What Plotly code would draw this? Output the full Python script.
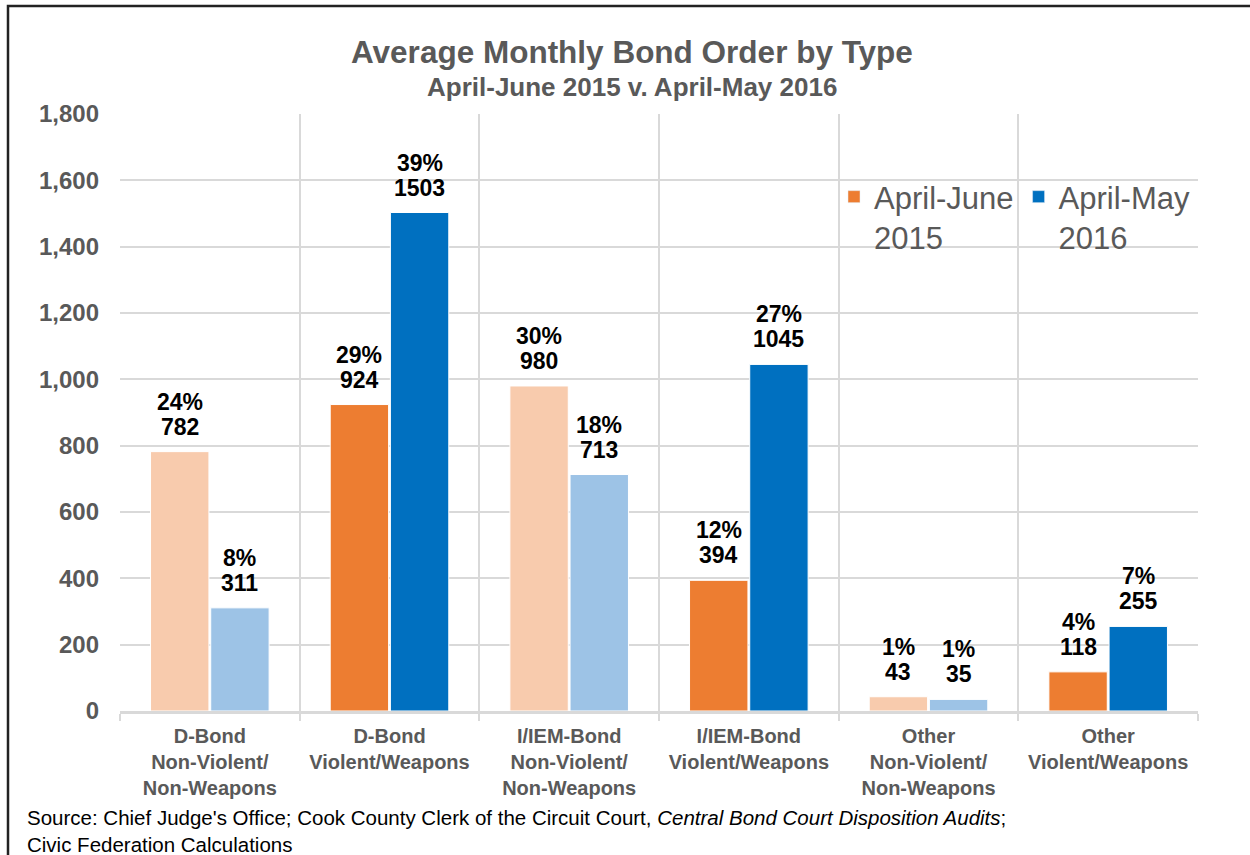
import plotly.graph_objects as go

categories = [
    "D-Bond<br>Non-Violent/<br>Non-Weapons",
    "D-Bond<br>Violent/Weapons",
    "I/IEM-Bond<br>Non-Violent/<br>Non-Weapons",
    "I/IEM-Bond<br>Violent/Weapons",
    "Other<br>Non-Violent/<br>Non-Weapons",
    "Other<br>Violent/Weapons",
]
values_2015 = [782, 924, 980, 394, 43, 118]
values_2016 = [311, 1503, 713, 1045, 35, 255]
pct_2015 = ["24%", "29%", "30%", "12%", "1%", "4%"]
pct_2016 = ["8%", "39%", "18%", "27%", "1%", "7%"]
violent = [False, True, False, True, False, True]
y_ticks = [0, 200, 400, 600, 800, 1000, 1200, 1400, 1600, 1800]

FONT = "Arial, 'Liberation Sans', sans-serif"
GRAY = "#595959"
GRID = "#D9D9D9"
ORANGE, ORANGE_L = "#ED7D31", "#F8CBAD"
BLUE, BLUE_L = "#0070C0", "#9DC3E6"

BAR_W = 0.325
OFF_A = -0.33
OFF_B = 0.005

xs = list(range(len(categories)))
col_a = [ORANGE if v else ORANGE_L for v in violent]
col_b = [BLUE if v else BLUE_L for v in violent]

fig = go.Figure()
fig.add_trace(go.Bar(
    x=xs, y=values_2015, name="April-June<br>2015", width=BAR_W, offset=OFF_A,
    marker=dict(color=col_a, line=dict(color="white", width=1)), showlegend=False,
))
fig.add_trace(go.Bar(
    x=xs, y=values_2016, name="April-May<br>2016", width=BAR_W, offset=OFF_B,
    marker=dict(color=col_b, line=dict(color="white", width=1)), showlegend=False,
))
# legend swatches in the dark colours
fig.add_trace(go.Bar(x=[None], y=[None], name="April-June<br>2015", marker_color=ORANGE))
fig.add_trace(go.Bar(x=[None], y=[None], name="April-May<br>2016", marker_color=BLUE))

LABEL_FONT = dict(family=FONT, size=23, color="black", weight="bold")
annotations = []
for i in xs:
    for val, pct, off in ((values_2015[i], pct_2015[i], OFF_A), (values_2016[i], pct_2016[i], OFF_B)):
        xc = i + off + BAR_W / 2
        annotations.append(dict(x=xc, y=val, xref="x", yref="y", text=str(val),
                                showarrow=False, yanchor="bottom", yshift=10, font=LABEL_FONT))
        annotations.append(dict(x=xc, y=val, xref="x", yref="y", text=pct,
                                showarrow=False, yanchor="bottom", yshift=35, font=LABEL_FONT))

annotations += [
    dict(text="Average Monthly Bond Order by Type", x=632, y=52, xref="paper", yref="paper",
         showarrow=False, yanchor="middle",
         font=dict(family=FONT, size=31.5, color=GRAY, weight="bold")),
    dict(text="April-June 2015 v. April-May 2016", x=632, y=87, xref="paper", yref="paper",
         showarrow=False, yanchor="middle",
         font=dict(family=FONT, size=26, color=GRAY, weight="bold")),
    dict(text="Source: Chief Judge's Office; Cook County Clerk of the Circuit Court, "
              "<i>Central Bond Court Disposition Audits</i>;<br>Civic Federation Calculations",
         x=25, y=804, xref="paper", yref="paper", showarrow=False, align="left",
         xanchor="left", yanchor="top",
         font=dict(family=FONT, size=20.5, color="black")),
]

W, H = 1250, 855
ML, MR, MT, MB = 120, 52, 114, 144
PW, PH = W - ML - MR, H - MT - MB


def px_to_paper(a):
    a = dict(a)
    if a.get("xref") == "paper":
        a["x"] = (a["x"] - ML) / PW
        a["y"] = (H - MB - a["y"]) / PH
    return a


annotations = [px_to_paper(a) for a in annotations]

fig.update_layout(
    width=W, height=H,
    margin=dict(l=ML, r=MR, t=MT, b=MB),
    paper_bgcolor="white", plot_bgcolor="white",
    annotations=annotations,
    showlegend=True,
    legend=dict(
        orientation="h", x=(834 - ML) / PW, y=(H - MB - 170) / PH,
        xanchor="left", yanchor="top", valign="top",
        font=dict(family=FONT, size=31, color=GRAY),
        bgcolor="rgba(255,255,255,0)", traceorder="normal", itemwidth=30,
    ),
    xaxis=dict(
        range=[-0.5, len(categories) - 0.5],
        tickvals=xs, ticktext=categories,
        tickfont=dict(family=FONT, size=20, color=GRAY, weight="bold"),
        ticks="", showgrid=False, zeroline=False,
        showline=True, linecolor=GRID, linewidth=2.5,
        ticklabelstandoff=5,
        minor=dict(tickvals=[i - 0.5 for i in range(len(categories) + 1)],
                   showgrid=True, gridcolor=GRID, gridwidth=2,
                   ticks="outside", ticklen=7, tickcolor=GRID, tickwidth=2),
    ),
    yaxis=dict(
        range=[0, 1800], tickvals=y_ticks, tickformat=",",
        tickfont=dict(family=FONT, size=24, color=GRAY, weight="bold"),
        showgrid=True, gridcolor=GRID, gridwidth=2, zeroline=False,
        ticklabelstandoff=20,
    ),
    shapes=[dict(type="rect", xref="paper", yref="paper",
                 x0=(8 - ML) / PW, x1=(1300 - ML) / PW,
                 y0=(H - MB - 900) / PH, y1=(H - MB - 6) / PH,
                 line=dict(color="#222222", width=2.5), layer="above")],
)

fig.write_html("out.html", config={"displayModeBar": False},
               post_script="document.body.style.margin='0px';document.body.style.overflow='hidden';")
